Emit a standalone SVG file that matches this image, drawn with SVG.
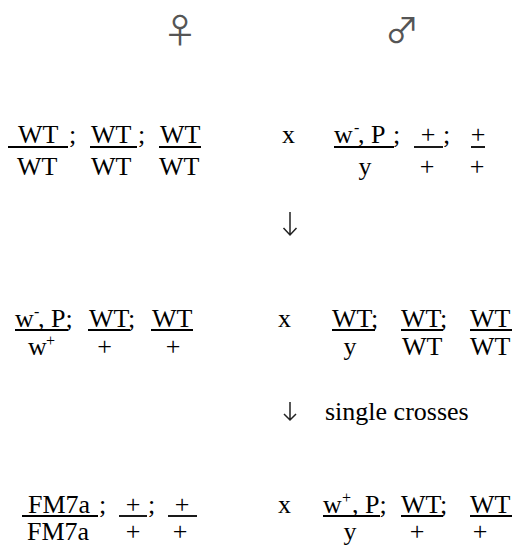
<svg xmlns="http://www.w3.org/2000/svg" width="514" height="545" viewBox="0 0 514 545">
<style>
text{font-family:"Liberation Serif","Times New Roman",serif;font-size:26px;fill:#000}
.sup{font-size:16px}
.sym{font-family:"Noto Sans CJK JP","DejaVu Sans",sans-serif;font-size:34px;fill:#555}
.bar{stroke:#000;stroke-width:1.8}
.m{text-anchor:middle}
.arr{fill:none;stroke:#222;stroke-width:1.5}
</style>
<rect width="514" height="545" fill="#fff"/>
<g id="female-symbol"><text class="sym m" x="180" y="43">♀</text></g>
<g id="male-symbol"><text class="sym m" x="402" y="43">♂</text></g>

<g id="p-female">
<text x="18" y="143">WT</text><text x="69" y="143">;</text>
<text x="91" y="143">WT</text><text x="138" y="143">;</text>
<text x="160" y="143">WT</text>
<line class="bar" x1="8" y1="147" x2="68" y2="147"/>
<line class="bar" x1="90" y1="147" x2="137" y2="147"/>
<line class="bar" x1="159" y1="147" x2="201" y2="147"/>
<text x="17" y="175">WT</text><text x="91" y="175">WT</text><text x="159" y="175">WT</text>
</g>
<g id="p-male">
<text x="282" y="143">x</text>
<text x="334" y="143">w</text><text class="sup" x="354" y="133">-</text><text x="358" y="143">, P</text><text x="393" y="143">;</text>
<text class="m" x="428" y="143">+</text><text x="443" y="143">;</text>
<text class="m" x="478" y="143">+</text>
<line class="bar" x1="334" y1="147" x2="394" y2="147"/>
<line class="bar" x1="414" y1="147" x2="443" y2="147"/>
<line class="bar" x1="471" y1="147" x2="485" y2="147"/>
<text class="m" x="365" y="175">y</text><text class="m" x="427" y="175">+</text><text class="m" x="477" y="175">+</text>
</g>

<g id="f1-female">
<text x="15" y="327">w</text><text class="sup" x="34" y="317">-</text><text x="38" y="327">, P;</text>
<text x="89" y="327">WT;</text>
<text x="152" y="327">WT</text>
<line class="bar" x1="15" y1="330" x2="68" y2="330"/>
<line class="bar" x1="88" y1="330" x2="130" y2="330"/>
<line class="bar" x1="151" y1="330" x2="193" y2="330"/>
<text x="28" y="355">w</text><text class="sup" x="46" y="346">+</text>
<text class="m" x="104.5" y="355">+</text><text class="m" x="173" y="355">+</text>
</g>
<g id="f1-male">
<text x="278" y="327">x</text>
<text x="332" y="327">WT;</text>
<text x="401" y="327">WT;</text>
<text x="470" y="327">WT</text>
<line class="bar" x1="332" y1="330" x2="375" y2="330"/>
<line class="bar" x1="401" y1="330" x2="443" y2="330"/>
<line class="bar" x1="470" y1="330" x2="512" y2="330"/>
<text class="m" x="350" y="355">y</text><text x="402" y="355">WT</text><text x="470" y="355">WT</text>
</g>

<g id="f2-female">
<text x="28" y="513">FM7a</text><text x="99" y="513">;</text>
<text class="m" x="133" y="513">+</text><text x="148" y="513">;</text>
<text class="m" x="182" y="513">+</text>
<line class="bar" x1="22" y1="516" x2="98" y2="516"/>
<line class="bar" x1="119" y1="516" x2="147" y2="516"/>
<line class="bar" x1="168" y1="516" x2="197" y2="516"/>
<text x="27" y="540">FM7a</text><text class="m" x="133" y="540">+</text><text class="m" x="180" y="540">+</text>
</g>
<g id="f2-male">
<text x="278" y="513">x</text>
<text x="323" y="513">w</text><text class="sup" x="342" y="503">+</text><text x="352" y="513">, P;</text>
<text x="401" y="513">WT;</text>
<text x="470" y="513">WT</text>
<line class="bar" x1="323" y1="516" x2="380" y2="516"/>
<line class="bar" x1="401" y1="516" x2="443" y2="516"/>
<line class="bar" x1="470" y1="516" x2="512" y2="516"/>
<text class="m" x="350" y="540">y</text><text class="m" x="417" y="540">+</text><text class="m" x="480" y="540">+</text>
</g>

<g id="connectors">
<path class="arr" d="M290 212 V235 M283.5 228 L290 235 L296.5 228"/>
<path class="arr" d="M290 402 V420 M284 414 L290 420 L296 414"/>
<text x="325" y="420">single crosses</text>
</g>
</svg>
